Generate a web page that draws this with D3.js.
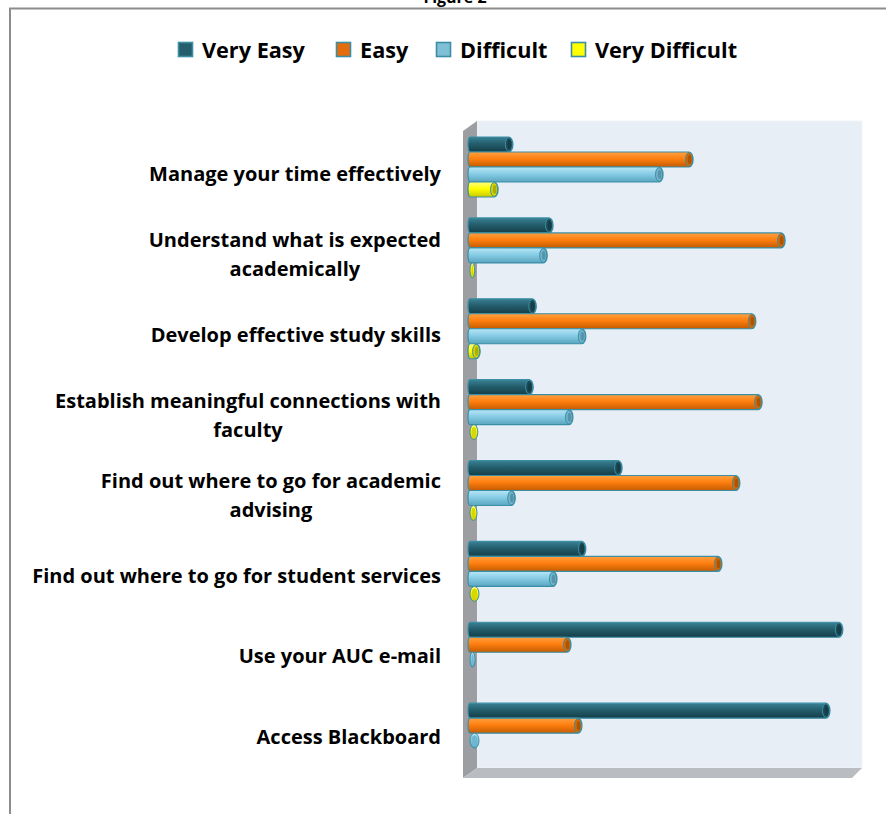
<!DOCTYPE html>
<html><head><meta charset="utf-8">
<script src="https://cdn.jsdelivr.net/npm/d3@7"></script>
<style>html,body{margin:0;padding:0;background:#fff;}svg{display:block;}</style>
</head><body>
<script>
const categories = [
  ["Manage your time effectively"],
  ["Understand what is expected", "academically"],
  ["Develop effective study skills"],
  ["Establish meaningful connections with", "faculty"],
  ["Find out where to go for academic", "advising"],
  ["Find out where to go for student services"],
  ["Use your AUC e-mail"],
  ["Access Blackboard"]
];
const seriesNames = ["Very Easy", "Easy", "Difficult", "Very Difficult"];
const veryEasy      = [11.0, 21.3, 17.0, 16.2, 39.0, 29.7, 95.6, 92.3];
const easy          = [57.2, 80.8, 73.3, 74.9, 69.2, 64.6, 25.9, 28.7];
const difficult     = [49.5, 19.8, 29.7, 26.4, 11.6, 22.3, 1.3, 2.3];
const veryDifficult = [7.2, 1.2, 2.6, 2.0, 1.8, 2.3, 0, 0];
const seriesValues = [veryEasy, easy, difficult, veryDifficult];

const W = 886, H = 814;
const FONT = "'Open Sans', Lato, sans-serif";
const colors = [
  {top:"#3a8294", mid:"#245e6d", bot:"#143e48", cap:"#1c4c58", swatch:"#245e6d"},
  {top:"#ffa040", mid:"#ff7f10", bot:"#c45c00", cap:"#d86800", swatch:"#e46c0a"},
  {top:"#b8e6f5", mid:"#88cde6", bot:"#5aa5bf", cap:"#6fb6cf", swatch:"#7fc0d6"},
  {top:"#ffff80", mid:"#ffff00", bot:"#c8c800", cap:"#d8d800", swatch:"#ffff00"}
];
const edge = "#3a8ea6";

const svg = d3.select("body").append("svg").attr("width", W).attr("height", H);
const defs = svg.append("defs");
colors.forEach((c, i) => {
  const g = defs.append("linearGradient").attr("id", "g" + i)
    .attr("x1", 0).attr("y1", 0).attr("x2", 0).attr("y2", 1);
  g.append("stop").attr("offset", "0%").attr("stop-color", c.top);
  g.append("stop").attr("offset", "45%").attr("stop-color", c.mid);
  g.append("stop").attr("offset", "100%").attr("stop-color", c.bot);
});

function fitSize(sample, target, base) {
  const t = svg.append("text").attr("font-family", FONT).attr("font-weight", "bold")
    .attr("font-size", base).text(sample);
  const w = t.node().getComputedTextLength();
  t.remove();
  return base * target / w;
}
const labelSize = fitSize("Manage your time effectively", 292, 20);
const legendSize = fitSize("Very Easy", 103, 20);

// Title (mostly cut off at top, as in the reference)
svg.append("text").attr("x", 455).attr("y", 3).attr("text-anchor", "middle")
  .attr("font-family", FONT).attr("font-weight", "bold")
  .attr("font-size", 16).attr("fill", "#000").text("Figure 2");

// Outer chart border
svg.append("path").attr("d", "M10,814 L10,8.5 L886,8.5")
  .attr("fill", "none").attr("stroke", "#8c8c8c").attr("stroke-width", 2);

// Plot geometry
const plotL = 477, plotR = 862, plotT = 121, plotB = 768, depth = 14, dy = 10;
const x = d3.scaleLinear().domain([0, 100]).range([470, 860]);
const y = d3.scaleBand().domain(d3.range(categories.length)).range([plotT, plotB]);
const yInner = d3.scaleBand().domain(d3.range(seriesNames.length)).range([16, 76]);

svg.append("rect").attr("x", plotL).attr("y", plotT).attr("width", plotR - plotL).attr("height", plotB - plotT)
  .attr("fill", "#e8eef6").attr("stroke", "#f0f4f8").attr("stroke-width", 1);
svg.append("path").attr("d", `M${plotL - depth},${plotT + dy} L${plotL},${plotT} L${plotL},${plotB} L${plotL - depth},${plotB + dy} Z`)
  .attr("fill", "#9c9ea2");
svg.append("path").attr("d", `M${plotL},${plotB} L${plotR},${plotB} L${plotR - 10},${plotB + dy} L${plotL - depth},${plotB + dy} Z`)
  .attr("fill", "#b9bcc0");

// bars
const bars = svg.append("g");
categories.forEach((cat, ci) => {
  seriesValues.forEach((vals, si) => {
    const v = vals[ci];
    if (v <= 0) return;
    const h = yInner.bandwidth();
    const y0 = y(ci) + yInner(si);
    const cy = y0 + h / 2;
    const ry = h / 2;
    const xs = x(0);
    const xe = x(v);
    let rx = 4;
    if (xe - xs < 2 * rx + 1) {
      rx = Math.max((xe - xs) / 2, 1.5);
      bars.append("ellipse").attr("cx", xs + rx).attr("cy", cy).attr("rx", rx).attr("ry", ry)
        .attr("fill", `url(#g${si})`).attr("stroke", edge).attr("stroke-width", 1);
      bars.append("ellipse").attr("cx", xs + rx).attr("cy", cy).attr("rx", Math.max(rx - 1.5, 0.5)).attr("ry", ry - 2)
        .attr("fill", colors[si].cap);
      return;
    }
    const xc = xe - rx;
    const lrx = 2;
    const d = `M${xs},${y0} L${xc},${y0} A${rx},${ry} 0 0 1 ${xc},${y0 + h} L${xs},${y0 + h} A${lrx},${ry} 0 0 1 ${xs},${y0} Z`;
    bars.append("path").attr("d", d).attr("fill", `url(#g${si})`)
      .attr("stroke", edge).attr("stroke-width", 1.2);
    bars.append("ellipse").attr("cx", xc).attr("cy", cy).attr("rx", rx - 0.5).attr("ry", ry - 0.6)
      .attr("fill", colors[si].cap).attr("stroke", edge).attr("stroke-width", 1);
    bars.append("ellipse").attr("cx", xc + 0.5).attr("cy", cy).attr("rx", rx - 2.2).attr("ry", ry - 3)
      .attr("fill", d3.color(colors[si].cap).darker(0.6));
  });
});

// category labels
const labG = svg.append("g").attr("font-family", FONT)
  .attr("font-weight", "bold").attr("font-size", labelSize).attr("fill", "#000");
const lineH = 29;
categories.forEach((lines, ci) => {
  const cy = y(ci) + y.bandwidth() / 2 + 11.5 - ci * 0.45;
  const t = labG.append("text").attr("text-anchor", "middle").attr("dominant-baseline", "central");
  const tspans = lines.map((ln, li) => t.append("tspan").attr("y", cy + (li - (lines.length - 1) / 2) * lineH).text(ln));
  const widths = tspans.map(ts => ts.node().getComputedTextLength());
  const bw = d3.max(widths);
  const centerX = 441 - bw / 2;
  tspans.forEach(ts => ts.attr("x", centerX));
});

// legend
const legend = svg.append("g").attr("font-family", FONT)
  .attr("font-weight", "bold").attr("font-size", legendSize).attr("fill", "#000");
const legendX = [178, 336, 436, 571];
seriesNames.forEach((s, i) => {
  const g = legend.append("g").attr("transform", `translate(${legendX[i]},0)`);
  g.append("rect").attr("x", 0.5).attr("y", 42.5).attr("width", 14).attr("height", 14)
    .attr("fill", colors[i].swatch).attr("stroke", edge).attr("stroke-width", 1.6);
  g.append("text").attr("x", 24).attr("y", 49.5).attr("dominant-baseline", "central").text(s);
});
</script>
</body></html>
